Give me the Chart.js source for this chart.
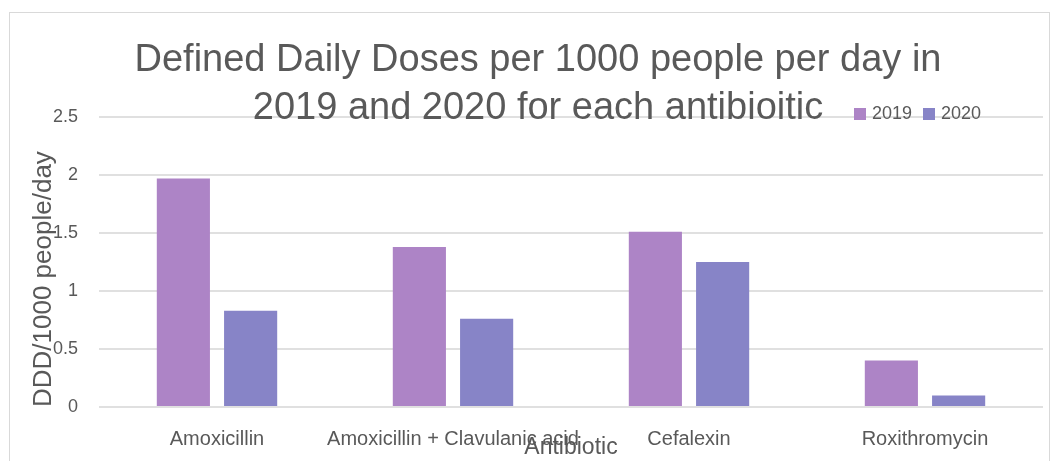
<!DOCTYPE html>
<html>
<head>
<meta charset="utf-8">
<script src="https://cdn.jsdelivr.net/npm/chart.js@4"></script>
<style>
  body { margin: 0; background: #fff; }
  #wrap { width: 1053px; height: 461px; position: relative; }
</style>
</head>
<body>
<div id="wrap"><canvas id="ddd"></canvas></div>
<script>
const categories = ['Amoxicillin', 'Amoxicillin + Clavulanic acid', 'Cefalexin', 'Roxithromycin'];
const values2019 = [1.97, 1.38, 1.51, 0.40];
const values2020 = [0.83, 0.76, 1.25, 0.10];
const seriesNames = ['2019', '2020'];
const titleLines = ['Defined Daily Doses per 1000 people per day in', '2019 and 2020 for each antibioitic'];

const textColor = '#595959';
Chart.defaults.font.family = "'Liberation Sans', Arial, sans-serif";
Chart.defaults.color = textColor;

// frame, title and legend drawn by hand (they overlap the plot in the original)
const decor = {
  id: 'decor',
  beforeDraw(chart) {
    const ctx = chart.ctx;
    ctx.save();
    ctx.strokeStyle = '#d9d9d9';
    ctx.lineWidth = 1;
    ctx.strokeRect(9.5, 12.5, 1040, 470);
    ctx.restore();
  },
  afterDraw(chart) {
    const ctx = chart.ctx;
    ctx.save();
    ctx.fillStyle = textColor;
    ctx.textAlign = 'center';
    ctx.textBaseline = 'alphabetic';
    ctx.font = "38px 'Liberation Sans', Arial, sans-serif";
    ctx.fillText(titleLines[0], 538, 71);
    ctx.fillText(titleLines[1], 538, 119);

    ctx.font = "18px 'Liberation Sans', Arial, sans-serif";
    ctx.textAlign = 'left';
    const xs = [854, 923];
    chart.data.datasets.forEach((ds, i) => {
      ctx.fillStyle = ds.backgroundColor;
      ctx.fillRect(xs[i], 108, 12, 12);
      ctx.fillStyle = textColor;
      ctx.fillText(ds.label, xs[i] + 18, 119);
    });
    ctx.restore();
  }
};

new Chart(document.getElementById('ddd'), {
  type: 'bar',
  data: {
    labels: categories,
    datasets: [
      { label: seriesNames[0], data: values2019, backgroundColor: '#ad84c6' },
      { label: seriesNames[1], data: values2020, backgroundColor: '#8784c7' }
    ]
  },
  options: {
    responsive: true,
    maintainAspectRatio: false,
    animation: false,
    categoryPercentage: 0.57,
    barPercentage: 0.79,
    layout: { padding: { top: 117, right: 10, left: 0, bottom: 0 } },
    plugins: {
      legend: { display: false },
      title: { display: false },
      tooltip: { enabled: false }
    },
    scales: {
      x: {
        grid: { display: false },
        border: { display: false },
        ticks: { padding: 12, font: { size: 20 }, color: textColor, maxRotation: 0, autoSkip: false },
        title: { display: true, text: 'Antibiotic', font: { size: 23 }, color: textColor, padding: 0 },
        afterFit(scale) { scale.height = 54; }
      },
      y: {
        min: 0,
        max: 2.5,
        ticks: {
          stepSize: 0.5,
          padding: 21,
          font: { size: 18 },
          color: textColor,
          callback: (v) => String(v)
        },
        grid: { color: '#e0e0e0', lineWidth: 2, drawTicks: false },
        border: { display: false },
        title: { display: true, text: 'DDD/1000 people/day', align: 'start', font: { size: 26 }, color: textColor, padding: { top: 28 } },
        afterFit(scale) { scale.width = 99; }
      }
    }
  },
  plugins: [decor]
});
</script>
</body>
</html>
